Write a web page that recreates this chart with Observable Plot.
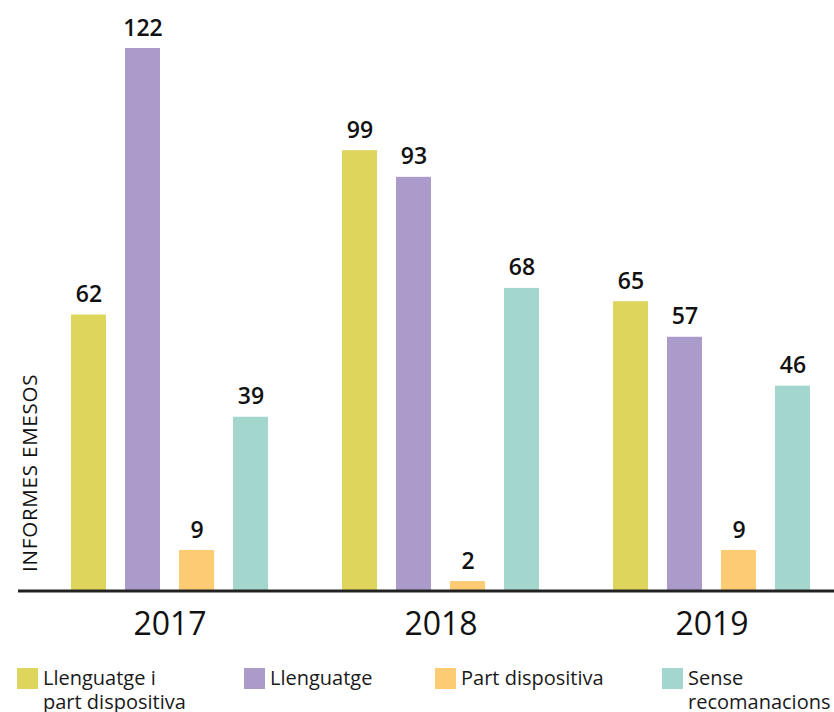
<!DOCTYPE html>
<html><head><meta charset="utf-8">
<script src="https://cdn.jsdelivr.net/npm/d3@7"></script>
<script src="https://cdn.jsdelivr.net/npm/@observablehq/plot@0.6"></script>
<style>
body{margin:0;background:#fff;font-family:"Open Sans",sans-serif;overflow:hidden;}
#chart{position:relative;width:834px;}
#chart svg{display:block;}
.legend{position:relative;width:834px;height:54px;}
.item{position:absolute;top:10px;display:flex;align-items:flex-start;font-size:20px;line-height:24px;color:#1a1a1a;white-space:pre-line;}
.sw{width:21px;height:21px;margin-right:5px;flex:none;}
</style></head><body><div id="chart"></div>
<script>
const years = ["2017", "2018", "2019"];
const series = ["Llenguatge i part dispositiva", "Llenguatge", "Part dispositiva", "Sense recomanacions"];
const legendLabels = ["Llenguatge i\npart dispositiva", "Llenguatge", "Part dispositiva", "Sense\nrecomanacions"];
const colors = ["#ded55c", "#ab9bcb", "#fccb73", "#a3d7cd"];
const values2017 = [62, 122, 9, 39];
const values2018 = [99, 93, 2, 68];
const values2019 = [65, 57, 9, 46];
const yLabel = "INFORMES EMESOS";

const valuesByYear = [values2017, values2018, values2019];
const data = years.flatMap((yr, i) => valuesByYear[i].map((v, j) => ({year: yr, series: series[j], value: v})));

const plot = Plot.plot({
  width: 834,
  height: 658,
  marginLeft: 60,
  marginRight: 12,
  marginTop: 48,
  marginBottom: 68,
  style: {fontFamily: "'Open Sans', sans-serif", background: "#fff", overflow: "visible"},
  fx: {domain: years, paddingInner: 0.1985, paddingOuter: 0, label: null},
  x: {domain: series, paddingInner: 0.36, paddingOuter: 0.18, axis: null},
  y: {domain: [0, 122], axis: null},
  color: {domain: series, range: colors},
  marks: [
    Plot.barY(data, {fx: "year", x: "series", y: "value", fill: "series"}),
    Plot.text(data, {fx: "year", x: "series", y: "value", text: d => String(d.value), lineAnchor: "bottom", dy: -13, fontSize: 23, fontWeight: 600, fill: "#111"}),
    Plot.axisFx({anchor: "bottom", tickSize: 0, tickPadding: 22, fontSize: 32, fill: "#111", label: null})
  ]
});

const container = document.getElementById("chart");
container.appendChild(plot);

const svg = d3.select(plot.tagName.toLowerCase() === "svg" ? plot : plot.querySelector("svg"));
const y0 = plot.scale("y").apply(0);
svg.append("line")
  .attr("x1", 18).attr("x2", 834)
  .attr("y1", y0 + 1).attr("y2", y0 + 1)
  .attr("stroke", "#222").attr("stroke-width", 3);
svg.append("text")
  .attr("transform", `translate(29,${y0 - 18}) rotate(-90)`)
  .attr("text-anchor", "start")
  .attr("dominant-baseline", "central")
  .attr("font-size", 20.5)
  .attr("letter-spacing", "0.8px")
  .attr("fill", "#111")
  .text(yLabel);

const legend = document.createElement("div");
legend.className = "legend";
const lefts = [17, 244, 435, 662];
legendLabels.forEach((lab, i) => {
  const it = document.createElement("div");
  it.className = "item";
  it.style.left = lefts[i] + "px";
  const sw = document.createElement("div");
  sw.className = "sw";
  sw.style.background = colors[i];
  const tx = document.createElement("div");
  tx.textContent = lab;
  tx.style.marginTop = "-2px";
  it.appendChild(sw);
  it.appendChild(tx);
  legend.appendChild(it);
});
container.appendChild(legend);
</script>
</body></html>
